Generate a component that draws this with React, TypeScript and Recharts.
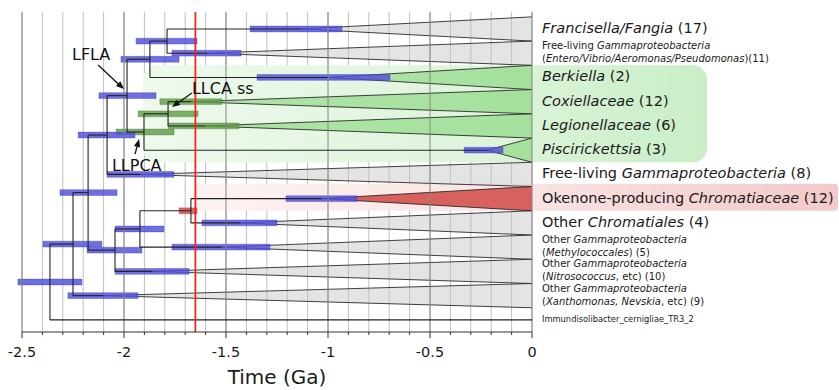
import React from 'react';
import {
  ComposedChart,
  XAxis,
  YAxis,
  CartesianGrid,
  Area,
  ReferenceLine,
  ReferenceArea,
  ReferenceDot,
} from 'recharts';

// time ticks (Ga)
const xTicks = [
  -2.5, -2.4, -2.3, -2.2, -2.1, -2, -1.9, -1.8, -1.7, -1.6, -1.5, -1.4, -1.3,
  -1.2, -1.1, -1, -0.9, -0.8, -0.7, -0.6, -0.5, -0.4, -0.3, -0.2, -0.1, 0,
];
const majorTicks = [-2.5, -2, -1.5, -1, -0.5, 0];

// collapsed clades, top to bottom
const cladeIds = ['fran', 'ent', 'berk', 'cox', 'leg', 'pisc', 'fl8', 'oken', 'ochr', 'meth', 'nitro', 'xan', 'immun'];
const cladeAge = [-1.13, -1.59, -1.0, -1.67, -1.6, -0.22, -1.92, -1.03, -1.43, -1.52, -1.86, -2.1, 0];
const cladeHpd: (number[] | null)[] = [
  [-1.382, -0.931], [-1.765, -1.426], [-1.348, -0.696], [-1.824, -1.52],
  [-1.784, -1.436], [-0.333, -0.142], [-2.083, -1.755], [-1.206, -0.858],
  [-1.618, -1.25], [-1.765, -1.284], [-2.044, -1.681], [-2.275, -1.931], null,
];

// clade labels: lines of [text, italic]
const cladeLabels: [string, boolean][][][] = [
  [[['Francisella/Fangia', true], [' (17)', false]]],
  [[['Free-living ', false], ['Gammaproteobacteria', true]], [['(', false], ['Entero/Vibrio/Aeromonas/Pseudomonas', true], [')(11)', false]]],
  [[['Berkiella', true], [' (2)', false]]],
  [[['Coxiellaceae', true], [' (12)', false]]],
  [[['Legionellaceae', true], [' (6)', false]]],
  [[['Piscirickettsia', true], [' (3)', false]]],
  [[['Free-living ', false], ['Gammaproteobacteria', true], [' (8)', false]]],
  [[['Okenone-producing ', false], ['Chromatiaceae', true], [' (12)', false]]],
  [[['Other ', false], ['Chromatiales', true], [' (4)', false]]],
  [[['Other ', false], ['Gammaproteobacteria', true]], [['(', false], ['Methylococcales', true], [') (5)', false]]],
  [[['Other ', false], ['Gammaproteobacteria', true]], [['(', false], ['Nitrosococcus', true], [', etc) (10)', false]]],
  [[['Other ', false], ['Gammaproteobacteria', true]], [['(', false], ['Xanthomonas, Nevskia', true], [', etc) (9)', false]]],
  [[['Immundisolibacter_cernigliae_TR3_2', false]]],
];
const labelKind = ['big', 'small', 'big', 'big', 'big', 'big', 'big', 'big', 'big', 'small', 'small', 'small', 'tiny'];

// internal nodes
const nodeIds = ['A', 'B', 'C', 'D', 'E', 'F', 'G', 'H', 'I', 'J', 'R1', 'root'];
const nodeAge = [-1.789, -1.873, -1.985, -1.902, -1.784, -2.083, -2.176, -2.044, -1.922, -1.672, -2.25, -2.363];
const nodeHpd = [
  [-1.941, -1.642], [-2.015, -1.73], [-2.123, -1.843], [-2.039, -1.755],
  [-1.931, -1.637], [-2.225, -1.946], [-2.314, -2.034], [-2.181, -1.912],
  [-2.044, -1.804], [-1.73, -1.642], [-2.397, -2.108], [-2.52, -2.206],
];
const nodeChildren = [
  ['fran', 'ent'], ['A', 'berk'], ['B', 'D'], ['E', 'pisc'], ['cox', 'leg'], ['C', 'fl8'],
  ['F', 'H'], ['I', 'nitro'], ['J', 'meth'], ['oken', 'ochr'], ['G', 'xan'], ['R1', 'immun'],
];

// annotations
const noteText = ['LFLA', 'LLCA ss', 'LLPCA'];
const notePos = [[-2.255, 1.78], [-1.667, 3.18], [-2.059, 6.36]];
const noteArrow = [
  [[-2.127, 1.99], [-2.0, 2.98]],
  [[-1.667, 3.14], [-1.765, 3.72]],
  [[-1.946, 5.66], [-1.926, 5.04]],
];

const redLineAge = -1.65;

const greenBars = ['D', 'E', 'cox', 'leg'];
const redBars = ['J'];
const greenClades = ['berk', 'cox', 'leg', 'pisc'];
const redClades = ['oken'];

const FONT = '"DejaVu Sans", Verdana, sans-serif';
const Y_DOMAIN: [number, number] = [-0.2, 13];

function yOf(id: string): number {
  const ci = cladeIds.indexOf(id);
  if (ci >= 0) return ci + 0.5;
  const [a, b] = nodeChildren[nodeIds.indexOf(id)];
  return (yOf(a) + yOf(b)) / 2;
}
function ageOf(id: string): number {
  const ci = cladeIds.indexOf(id);
  return ci >= 0 ? cladeAge[ci] : nodeAge[nodeIds.indexOf(id)];
}

const segments: { x1: number; y1: number; x2: number; y2: number }[] = [];
nodeIds.forEach((id, i) => {
  const [a, b] = nodeChildren[i];
  const x = nodeAge[i];
  segments.push({ x1: x, y1: yOf(a), x2: x, y2: yOf(b) });
  [a, b].forEach((c) => segments.push({ x1: x, y1: yOf(c), x2: ageOf(c), y2: yOf(c) }));
});

const bars = [
  ...nodeIds.map((id, i) => ({ id, lo: nodeHpd[i][0], hi: nodeHpd[i][1], y: yOf(id) })),
  ...cladeIds
    .map((id, i) => (cladeHpd[i] ? { id, lo: cladeHpd[i]![0], hi: cladeHpd[i]![1], y: yOf(id) } : null))
    .filter(Boolean) as { id: string; lo: number; hi: number; y: number }[],
];

const fmt = (v: number) => String(Math.round(v * 10) / 10);

const XTick = (props: any) => {
  const { x, y, payload } = props;
  const v = Math.round(payload.value * 10) / 10;
  const major = majorTicks.includes(v);
  return (
    <g>
      <line x1={x} x2={x} y1={y} y2={y + (major ? 6 : 3)} stroke="#333" strokeWidth={1} />
      {major && (
        <text x={x} y={y + 25} textAnchor="middle" fontSize={14.5} fontFamily={FONT} fill="#1a1a1a">
          {fmt(v)}
        </text>
      )}
    </g>
  );
};

const cladeLabel = (i: number) => (p: any) => {
  const lines = cladeLabels[i];
  const kind = labelKind[i];
  const size = kind === 'big' ? 14.5 : kind === 'small' ? 10 : 8.3;
  const offsets = kind === 'small' ? [-8, 5] : [-1];
  return (
    <g>
      {lines.map((line, li) => (
        <text
          key={li}
          x={p.cx + 10}
          y={p.cy + offsets[li]}
          dominantBaseline="central"
          fontSize={size}
          fontFamily={FONT}
          fill="#1a1a1a"
        >
          {line.map(([t, it], k) => (
            <tspan key={k} fontStyle={it ? 'italic' : 'normal'}>
              {t}
            </tspan>
          ))}
        </text>
      ))}
    </g>
  );
};

const RoundBox = (rx: number, fill: string) => (p: any) => (
  <rect x={p.x} y={p.y} width={p.width} height={p.height} rx={rx} ry={rx} fill={fill} />
);

const Arrow = (p: any) => {
  const { x1, y1, x2, y2 } = p;
  const ang = Math.atan2(y2 - y1, x2 - x1);
  const L = 8;
  const W = 3.2;
  const bx = x2 - L * Math.cos(ang);
  const by = y2 - L * Math.sin(ang);
  const px = -Math.sin(ang) * W;
  const py = Math.cos(ang) * W;
  return (
    <g>
      <line x1={x1} y1={y1} x2={bx} y2={by} stroke="#111" strokeWidth={1.3} />
      <polygon points={`${x2},${y2} ${bx + px},${by + py} ${bx - px},${by - py}`} fill="#111" />
    </g>
  );
};

export default function App() {
  return (
    <div style={{ position: 'absolute', left: 0, top: 0, width: 839, height: 390, background: '#fff' }}>
      <svg width={0} height={0} style={{ position: 'absolute' }}>
        <defs>
          <linearGradient id="greenBg" x1="0" y1="0" x2="1" y2="0">
            <stop offset="0%" stopColor="#eef9ec" />
            <stop offset="60%" stopColor="#def4db" />
            <stop offset="100%" stopColor="#c9eec6" />
          </linearGradient>
          <linearGradient id="pinkBg" x1="0" y1="0" x2="1" y2="0">
            <stop offset="0%" stopColor="#fdf2f2" />
            <stop offset="50%" stopColor="#f9e4e4" />
            <stop offset="100%" stopColor="#f2c9c9" />
          </linearGradient>
        </defs>
      </svg>
      <ComposedChart width={839} height={390} margin={{ top: 12, right: 307, bottom: 2, left: 22 }}>
        <CartesianGrid vertical horizontal={false} stroke="#bfbfbf" strokeWidth={1} />
        <XAxis
          dataKey="x"
          type="number"
          domain={[-2.5, 0]}
          ticks={xTicks}
          interval={0}
          height={56}
          tickSize={0}
          tickMargin={0}
          tickLine={false}
          axisLine={{ stroke: '#333' }}
          tick={XTick}
          label={{ value: 'Time (Ga)', position: 'insideBottom', offset: 4, fontSize: 20, fill: '#1a1a1a', fontFamily: FONT }}
        />
        <YAxis type="number" domain={Y_DOMAIN} reversed hide />
        {majorTicks.map((t) => (
          <ReferenceLine key={'g' + t} x={t} stroke="#858585" strokeWidth={1} ifOverflow="visible" />
        ))}
        <ReferenceArea x1={-1.907} x2={0.858} y1={2.0} y2={6.0} ifOverflow="visible" shape={RoundBox(14, 'url(#greenBg)')} />
        <ReferenceArea x1={-1.657} x2={1.5} y1={6.88} y2={8.0} ifOverflow="visible" shape={RoundBox(4, 'url(#pinkBg)')} />
        {cladeIds.map((id, i) =>
          id === 'immun' ? null : (
            <Area
              key={id}
              data={[
                { x: cladeAge[i], r: [i + 0.5, i + 0.5] },
                { x: 0, r: [i, i + 1] },
              ]}
              dataKey="r"
              type="linear"
              stroke="#2a2a2a"
              strokeWidth={0.9}
              fill={redClades.includes(id) ? '#d4524f' : greenClades.includes(id) ? '#6fd063' : '#c4c4c4'}
              fillOpacity={redClades.includes(id) ? 0.9 : greenClades.includes(id) ? 0.5 : 0.45}
              dot={false}
              activeDot={false}
              isAnimationActive={false}
            />
          )
        )}
        {segments.map((s, k) => (
          <ReferenceLine
            key={'s' + k}
            segment={[{ x: s.x1, y: s.y1 }, { x: s.x2, y: s.y2 }]}
            stroke="#222"
            strokeWidth={1.1}
            ifOverflow="visible"
          />
        ))}
        {bars.map((b) => {
          const green = greenBars.includes(b.id);
          const red = redBars.includes(b.id);
          return (
            <ReferenceArea
              key={'b' + b.id}
              x1={b.lo}
              x2={b.hi}
              y1={b.y - 0.12}
              y2={b.y + 0.12}
              ifOverflow="visible"
              fill={red ? '#d04848' : green ? '#5f9e45' : '#4f4fdc'}
              fillOpacity={0.82}
              stroke={red ? '#a03030' : green ? '#4a7f36' : '#3c3cb8'}
              strokeOpacity={0.6}
              strokeWidth={0.6}
            />
          );
        })}
        <ReferenceLine x={redLineAge} stroke="#ff1a1a" strokeWidth={1.7} ifOverflow="visible" />
        {noteArrow.map((a, k) => (
          <ReferenceLine
            key={'a' + k}
            segment={[{ x: a[0][0], y: a[0][1] }, { x: a[1][0], y: a[1][1] }]}
            ifOverflow="visible"
            shape={Arrow}
          />
        ))}
        {noteText.map((t, k) => (
          <ReferenceDot
            key={'n' + k}
            x={notePos[k][0]}
            y={notePos[k][1]}
            r={0}
            ifOverflow="visible"
            shape={(p: any) => (
              <text x={p.cx} y={p.cy} fontSize={16} fontFamily={FONT} fill="#111">
                {t}
              </text>
            )}
          />
        ))}
        {cladeIds.map((id, i) => (
          <ReferenceDot key={'l' + id} x={0} y={i + 0.5} r={0} ifOverflow="visible" shape={cladeLabel(i)} />
        ))}
      </ComposedChart>
    </div>
  );
}
